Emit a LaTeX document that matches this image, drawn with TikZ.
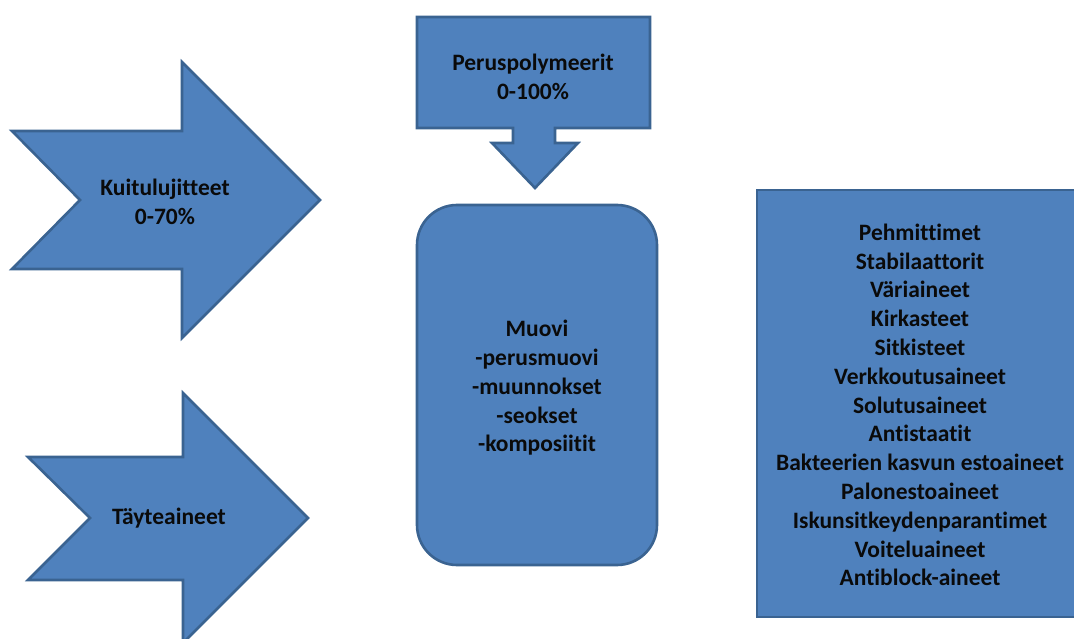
\documentclass[tikz,border=0pt]{standalone}
\usepackage{fontspec}
\setmainfont{Carlito}[Ligatures={NoCommon,TeX}]
\definecolor{shapefill}{HTML}{4F81BD}
\definecolor{shapeline}{HTML}{3A6391}
\definecolor{txt}{HTML}{0A0A0A}
\begin{document}
\begin{tikzpicture}[x=1pt,y=-1pt,
  blueshape/.style={fill=shapefill,draw=shapeline,line width=2.6pt,line join=miter},
  lbl/.style={align=center,text=txt,font=\fontsize{23.5}{28.8}\selectfont\bfseries,inner sep=0pt}]
\useasboundingbox (0,0) rectangle (1074,639);
\clip (0,0) rectangle (1074,639);
% notched arrow 1
\draw[blueshape] (12,131) -- (182,131) -- (182,62) -- (320,200) -- (182,338) -- (182,269) -- (12,269) -- (80,200) -- cycle;
% notched arrow 2
\draw[blueshape] (28,457) -- (183,457) -- (183,393) -- (308,518) -- (183,643) -- (183,580) -- (28,580) -- (90,518) -- cycle;
% down arrow callout
\draw[blueshape] (417,17) -- (650,17) -- (650,128) -- (555,128) -- (555,143) -- (578,143) -- (535,188) -- (492,143) -- (513,143) -- (513,128) -- (417,128) -- cycle;
% rounded rectangle
\draw[blueshape,rounded corners=40] (417,205) rectangle (657,565);
% right rectangle
\draw[blueshape] (757,190) rectangle (1083,617);
% labels
\node[lbl] (kuitu) at (165,202) {Kuitulujitteet\\0-70\%};
\node[lbl] (tayte) at (169,518) {Täyteaineet};
\node[lbl] (perus) at (533,77) {Peruspolymeerit\\0-100\%};
\node[lbl] (muovi) at (537,388) {Muovi\\-perusmuovi\\-muunnokset\\-seokset\\-komposiitit};
\node[lbl] (lisa) at (920,405) {Pehmittimet\\Stabilaattorit\\Väriaineet\\Kirkasteet\\Sitkisteet\\Verkkoutusaineet\\Solutusaineet\\Antistaatit\\Bakteerien kasvun estoaineet\\Palonestoaineet\\Iskunsitkeydenparantimet\\Voiteluaineet\\Antiblock-aineet};
\end{tikzpicture}
\end{document}
